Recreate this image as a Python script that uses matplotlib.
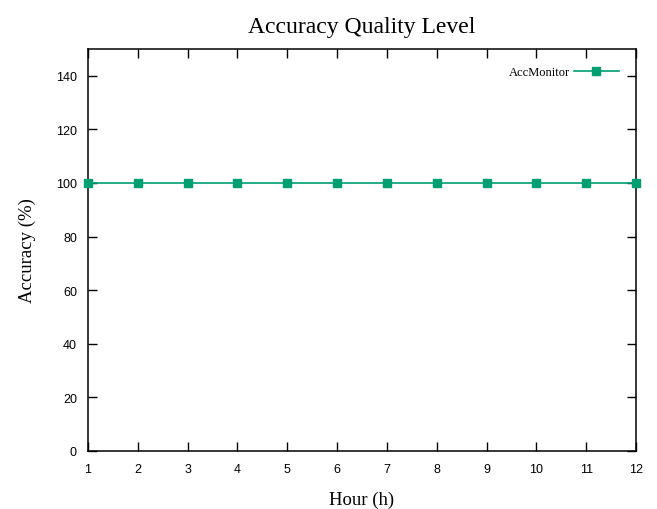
import matplotlib
matplotlib.use("Agg")
import matplotlib.pyplot as plt

hours = [1, 2, 3, 4, 5, 6, 7, 8, 9, 10, 11, 12]
accuracy = [100, 100, 100, 100, 100, 100, 100, 100, 100, 100, 100, 100]
y_ticks = [0, 20, 40, 60, 80, 100, 120, 140]

SERIF = "Liberation Serif"
SANS = "Liberation Sans"
GREEN = "#009e73"

fig = plt.figure(figsize=(6.57, 5.10), dpi=100)
ax = fig.add_axes([88 / 657, 58 / 510, 548 / 657, 402 / 510])

ax.plot(hours, accuracy, color=GREEN, marker="s", markersize=6,
        linewidth=1.2, label="AccMonitor", clip_on=False, zorder=3)

ax.set_xlim(1, 12)
ax.set_ylim(0, 150)
ax.set_xticks(hours)
ax.set_yticks(y_ticks)
ax.tick_params(direction="in", top=True, right=True, length=6.5, width=1,
               labelsize=9)
ax.tick_params(axis="x", pad=9)
ax.tick_params(axis="y", pad=8)
for lbl in ax.get_xticklabels() + ax.get_yticklabels():
    lbl.set_family(SANS)
for s in ax.spines.values():
    s.set_linewidth(1.1)

ax.set_title("Accuracy Quality Level", family=SERIF, fontsize=17, pad=12)
ax.set_xlabel("Hour (h)", family=SERIF, fontsize=13.5, labelpad=11)
ax.set_ylabel("Accuracy (%)", family=SERIF, fontsize=13.5, labelpad=14)

ax.legend(loc="upper right", frameon=False, markerfirst=False,
          prop={"family": SERIF, "size": 9}, handlelength=3.6,
          borderaxespad=1.0, handletextpad=0.3)

fig.savefig("out.png", dpi=100)
